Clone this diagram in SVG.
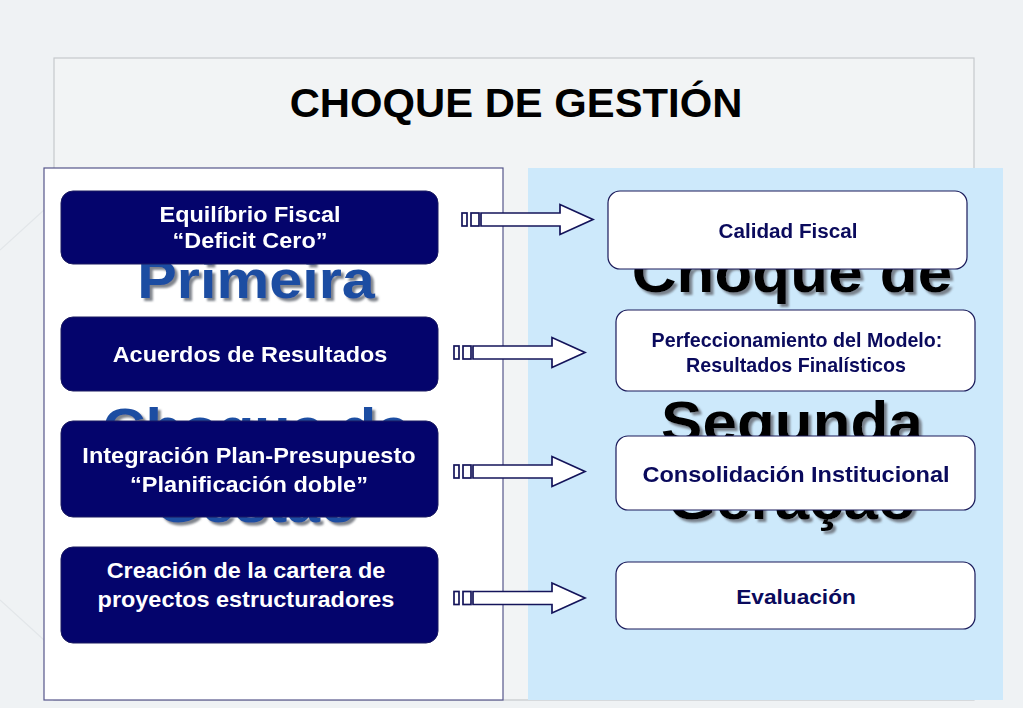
<svg xmlns="http://www.w3.org/2000/svg" width="1023" height="708" viewBox="0 0 1023 708">
<style>
.bg{fill:#eff2f4}
.lbox{fill:#04046c;stroke:#1a1a60;stroke-width:1}
.rbox{fill:#ffffff;stroke:#1a1a5a;stroke-width:1.2}
.lt{font-family:"Liberation Sans",Arial,sans-serif;font-weight:bold;font-size:22px;fill:#ffffff;text-anchor:middle}
.rt{font-family:"Liberation Sans",Arial,sans-serif;font-weight:bold;fill:#0a0a5c;text-anchor:middle}
.big{font-family:"Liberation Sans",Arial,sans-serif;font-weight:bold;text-anchor:middle}
.arr{fill:#ffffff;stroke:#14145a;stroke-width:1.7}
</style>
<defs>
<filter id="shadow" x="-10%" y="-20%" width="125%" height="150%">
<feGaussianBlur in="SourceAlpha" stdDeviation="1.3" result="b"/>
<feOffset in="b" dx="3" dy="3" result="o"/>
<feFlood flood-color="#6a6f78" flood-opacity="0.85"/>
<feComposite in2="o" operator="in" result="s"/>
<feMerge><feMergeNode in="s"/><feMergeNode in="SourceGraphic"/></feMerge>
</filter>
<g id="arrow">
<rect class="arr" x="454" y="-6.5" width="5" height="13"/>
<rect class="arr" x="463" y="-6.5" width="8" height="13"/>
<path class="arr" d="M473,-6.5 L552,-6.5 L552,-15 L585,0 L552,15 L552,6.5 L473,6.5 Z"/>
</g>
</defs>
<rect class="bg" x="0" y="0" width="1023" height="708"/>
<g stroke="#e2e6e9" stroke-width="1.2" fill="none">
<path d="M0,250 L44,210"/>
<path d="M0,600 L44,640"/>
<path d="M503,628 L527,628"/>
</g>
<g id="title">
<rect x="54" y="58" width="920" height="642" fill="#f2f4f5" stroke="#c5c9cc" stroke-width="1.2"/>
<text transform="translate(516,117) scale(1.045,1)" font-family="'Liberation Sans',Arial,sans-serif" font-weight="bold" font-size="40" text-anchor="middle" fill="#000000">CHOQUE DE GESTIÓN</text>
</g>
<g id="left-panel">
<rect x="44" y="168" width="459" height="532" fill="#ffffff" stroke="#55558a" stroke-width="1.2"/>
<g class="big" font-size="54" fill="#1c4ea2" filter="url(#shadow)">
<text transform="translate(256,298) scale(1.1,1)">Primeira</text>
<text transform="translate(256,446) scale(1.1,1)">Choque de</text>
<text transform="translate(256,522) scale(1.1,1)">Gestão</text>
</g>
</g>
<g id="right-panel">
<rect x="528" y="168" width="475" height="532" fill="#cde9fb"/>
<g class="big" font-size="58" fill="#000000" filter="url(#shadow)">
<text transform="translate(792,292) scale(1.07,1)">Choque de</text>
<text transform="translate(792,442) scale(1.07,1)">Segunda</text>
<text transform="translate(792,519) scale(1.07,1)">Geração</text>
</g>
</g>
<g id="node-equilibrio">
<rect class="lbox" x="61" y="191" width="377" height="73" rx="12"/>
<text class="lt" transform="translate(250,222) scale(1.065,1)">Equilíbrio Fiscal</text>
<text class="lt" transform="translate(250,248) scale(1.065,1)">“Deficit Cero”</text>
</g>
<g id="node-acuerdos">
<rect class="lbox" x="61" y="317" width="377" height="74" rx="12"/>
<text class="lt" transform="translate(250,362) scale(1.065,1)">Acuerdos de Resultados</text>
</g>
<g id="node-integracion">
<rect class="lbox" x="61" y="421" width="377" height="96" rx="12"/>
<text class="lt" transform="translate(249,463) scale(1.07,1)">Integración Plan-Presupuesto</text>
<text class="lt" transform="translate(249,492) scale(1.07,1)">“Planificación doble”</text>
</g>
<g id="node-creacion">
<rect class="lbox" x="61" y="547" width="377" height="96" rx="12"/>
<text class="lt" transform="translate(246,578) scale(1.065,1)">Creación de la cartera de</text>
<text class="lt" transform="translate(246,607) scale(1.065,1)">proyectos estructuradores</text>
</g>
<g id="node-calidad">
<rect class="rbox" x="608" y="191" width="359" height="78" rx="12"/>
<text class="rt" font-size="19.5" transform="translate(788,238) scale(1.06,1)">Calidad Fiscal</text>
</g>
<g id="node-perfeccionamiento">
<rect class="rbox" x="616" y="310" width="359" height="81" rx="12"/>
<text class="rt" font-size="19.5" transform="translate(797,347) scale(1.01,1)">Perfeccionamiento del Modelo:</text>
<text class="rt" font-size="19.5" transform="translate(796,372) scale(1.01,1)">Resultados Finalísticos</text>
</g>
<g id="node-consolidacion">
<rect class="rbox" x="616" y="436" width="359" height="74" rx="12"/>
<text class="rt" font-size="22" transform="translate(796,482) scale(1.07,1)">Consolidación Institucional</text>
</g>
<g id="node-evaluacion">
<rect class="rbox" x="616" y="562" width="359" height="67" rx="12"/>
<text class="rt" font-size="21" transform="translate(796,604) scale(1.08,1)">Evaluación</text>
</g>
<g id="connectors">
<use href="#arrow" transform="translate(8,219.5)"/>
<use href="#arrow" transform="translate(0,352.5)"/>
<use href="#arrow" transform="translate(0,471.5)"/>
<use href="#arrow" transform="translate(0,598)"/>
</g>
</svg>
